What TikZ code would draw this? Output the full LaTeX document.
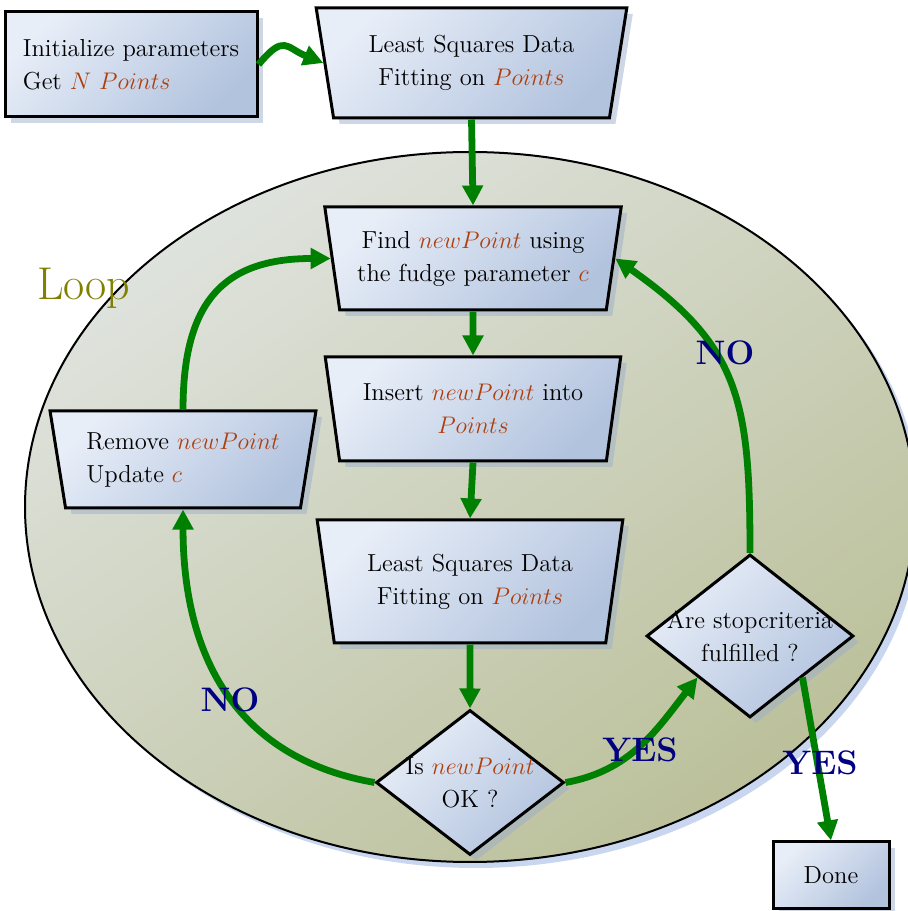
\documentclass[tikz,border=0pt]{standalone}
\usetikzlibrary{shapes.geometric,arrows.meta,shadows}

\definecolor{boxlight}{HTML}{E8EEF8}
\definecolor{boxdark}{HTML}{B2C3DE}
\definecolor{boxshadow}{HTML}{9DAFCB}
\definecolor{looplight}{HTML}{DFE3DE}
\definecolor{loopdark}{HTML}{BBC09A}
\definecolor{loopshadow}{HTML}{C9D6F0}
\definecolor{flowgreen}{HTML}{008000}
\definecolor{varred}{HTML}{AE3E0C}
\definecolor{answerblue}{HTML}{000080}
\definecolor{loopolive}{HTML}{7F7F00}

\newcommand{\vname}[1]{\textcolor{varred}{$#1$}}

\tikzset{
  box/.style={draw=black, line width=1.5pt, top color=boxlight, bottom color=boxdark,
    shading angle=45, align=center, font=\fontsize{12.3}{16.5}\selectfont,
    drop shadow={shadow xshift=3pt, shadow yshift=-3pt, fill=boxshadow, opacity=0.5}},
  slab/.style={box, trapezium, shape border rotate=180, trapezium angle=78,
    trapezium stretches=true, inner sep=2pt},
  decision/.style={box, diamond, inner sep=0pt},
  decisiontext/.style={align=center, font=\fontsize{12.3}{16.5}\selectfont},
  flow/.style={draw=flowgreen, line width=3.4pt, -{Triangle[length=10pt,width=10pt]}},
  answer/.style={text=answerblue, font=\fontsize{17}{20}\selectfont\bfseries},
}

\begin{document}
\begin{tikzpicture}[x=0.5pt, y=0.5pt]
  \useasboundingbox (0,0) rectangle (907,911);
  % the loop
  \path[draw=black, line width=1pt, top color=looplight, bottom color=loopdark, shading angle=35,
    drop shadow={shadow xshift=3pt, shadow yshift=-3pt, fill=loopshadow, opacity=1}]
    (470,404) ellipse [x radius=445, y radius=355];
  \node[text=loopolive, font=\fontsize{23}{28}\selectfont, anchor=base west] (loop) at (30,611) {Loop};

  \node[box, align=left, minimum width=126pt, minimum height=52.5pt] (init) at (131,846.5)
    {Initialize parameters\\Get \vname{N}~\vname{Points}};
  \node[slab, minimum width=155.5pt, minimum height=55pt] (lsqa) at (471.5,848)
    {Least Squares Data\\Fitting on \vname{Points}};
  \node[slab, minimum width=148.5pt, minimum height=51.5pt] (find) at (473,652.5)
    {Find \vname{newPoint} using\\the fudge parameter \vname{c}};
  \node[slab, minimum width=148pt, minimum height=52pt] (insert) at (473,502)
    {Insert \vname{newPoint} into\\\vname{Points}};
  \node[slab, minimum width=153pt, minimum height=61.5pt] (lsqb) at (470,329.5)
    {Least Squares Data\\Fitting on \vname{Points}};
  \node[slab, align=left, minimum width=133pt, minimum height=48.5pt] (remove) at (183,451.5)
    {Remove \vname{newPoint}\\Update \vname{c}};
  \node[decision, minimum width=94pt, minimum height=72.5pt,
    label={[decisiontext]center:Is \vname{newPoint}\\OK ?}] (isok) at (470,128.5) {};
  \node[decision, minimum width=103.5pt, minimum height=81.5pt,
    label={[decisiontext]center:Are stopcriteria\\fulfilled ?}] (stop) at (750,275) {};
  \node[box, minimum width=58pt, minimum height=33.5pt] (done) at (831,35.5) {Done};

  \draw[flow] (init.east) to[out=50,in=158,looseness=1.6] (lsqa.west);
  \draw[flow] (lsqa.south) -- (find.north);
  \draw[flow] (find.south) -- (insert.north);
  \draw[flow] (insert.south) -- (lsqb.north);
  \draw[flow] (lsqb.south) -- (isok.north);
  \draw[flow] (isok.west) to[out=170,in=-90,looseness=1.1] (remove.south);
  \draw[flow] (remove.north) to[out=90,in=180,looseness=1.3] (find.west);
  \draw[flow] (isok.east) to[out=10,in=232] (stop.south west);
  \draw[flow] (stop.north) to[out=90,in=-35,looseness=1.2] (find.east);
  \draw[flow] (stop.south east) -- (done.north);

  \node[answer] (noleft) at (230,211) {NO};
  \node[answer] (yesmid) at (640,161) {YES};
  \node[answer] (noright) at (725,558) {NO};
  \node[answer] (yesright) at (820,148) {YES};
\end{tikzpicture}
\end{document}
